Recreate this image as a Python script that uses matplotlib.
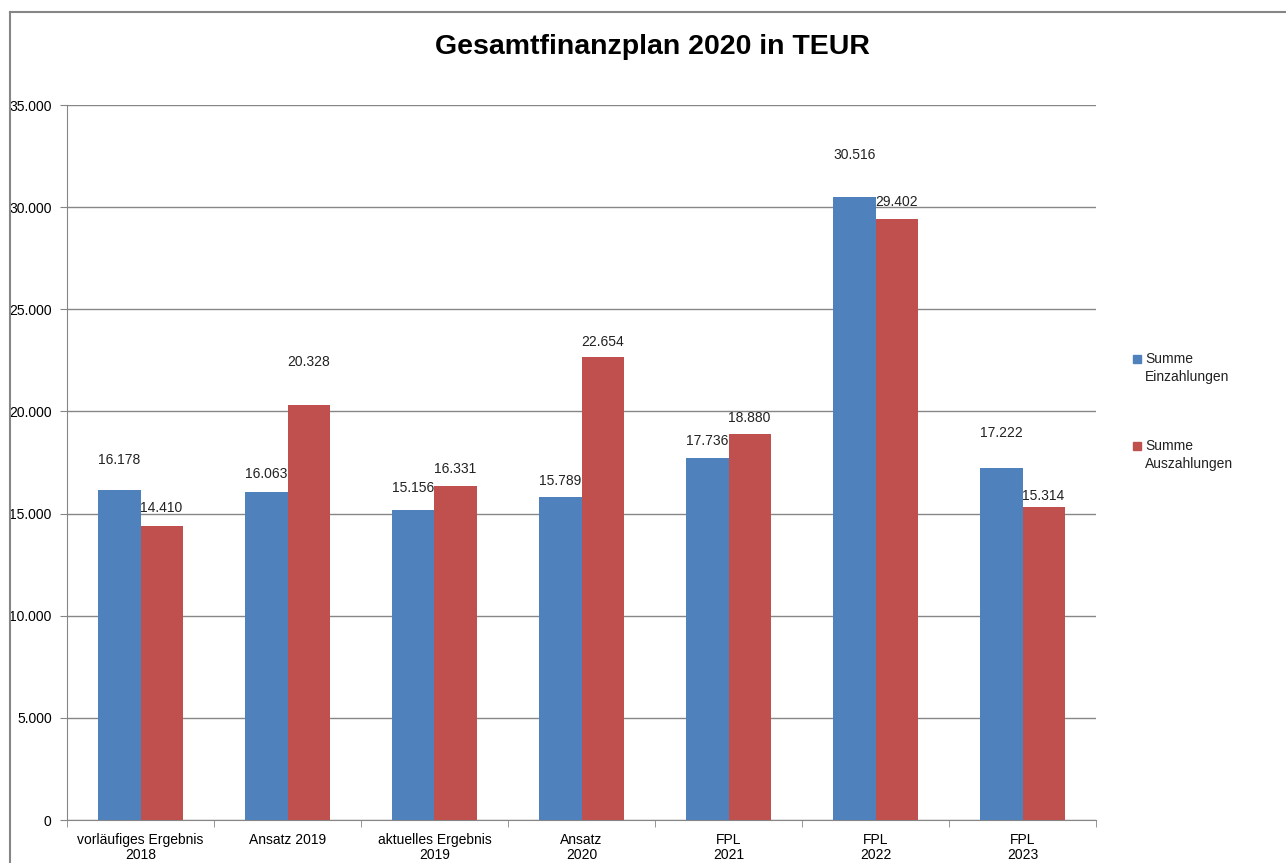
import matplotlib
matplotlib.use("Agg")
import matplotlib.pyplot as plt
from matplotlib.lines import Line2D
from matplotlib.patches import Rectangle
from matplotlib.ticker import FuncFormatter, FixedLocator
import numpy as np

categories = ["vorläufiges Ergebnis\n2018", "Ansatz 2019", "aktuelles Ergebnis\n2019",
              "Ansatz\n2020", "FPL\n2021", "FPL\n2022", "FPL\n2023"]
einzahlungen = [16178, 16063, 15156, 15789, 17736, 30516, 17222]
auszahlungen = [14410, 20328, 16331, 22654, 18880, 29402, 15314]
series_names = ["Summe\nEinzahlungen", "Summe\nAuszahlungen"]

# label offsets above bar tops (pixels), as placed in the original
off_blue = [30, 18, 22, 16, 17, 42, 35]
off_red = [18, 43, 17, 15, 16, 17, 11]

blue = "#4F81BD"
red = "#C0504D"
grid_col = "#868686"

plt.rcParams['font.family'] = ['Liberation Sans', 'DejaVu Sans']

W, H = 1286, 863
fig = plt.figure(figsize=(W / 100, H / 100), dpi=100)
ax = fig.add_axes([67 / W, 1 - 820 / H, (1096 - 67) / W, (820 - 105) / H])

x = np.arange(len(categories))
bw = 0.286
b1 = ax.bar(x - bw / 2, einzahlungen, bw, color=blue, zorder=3)
b2 = ax.bar(x + bw / 2, auszahlungen, bw, color=red, zorder=3)

def fmt(v):
    return f"{v:,.0f}".replace(",", ".")

for bars, vals, offs in [(b1, einzahlungen, off_blue), (b2, auszahlungen, off_red)]:
    for rect, v, o in zip(bars, vals, offs):
        ax.annotate(fmt(v), (rect.get_x() + rect.get_width() / 2, v),
                    xytext=(0, o), textcoords="offset pixels",
                    ha="center", va="center", fontsize=10, color="#222222", zorder=4)

ax.set_xlim(-0.5, len(categories) - 0.5)
ax.set_ylim(0, 35000)
ax.set_yticks(np.arange(0, 35001, 5000))
ax.yaxis.set_major_formatter(FuncFormatter(lambda v, p: fmt(v)))
ax.grid(axis="y", color=grid_col, linewidth=1, zorder=0)

ax.set_xticks(x)
ax.set_xticklabels(categories, fontsize=10, linespacing=1.1)
ax.xaxis.set_minor_locator(FixedLocator(np.arange(-0.5, len(categories), 1)))
ax.tick_params(axis="x", which="major", length=0, pad=9)
ax.tick_params(axis="x", which="minor", length=5, color=grid_col, direction="out")
ax.tick_params(axis="y", length=5, color=grid_col, direction="out", labelsize=10, pad=6)

for s in ["top", "right"]:
    ax.spines[s].set_visible(False)
for s in ["left", "bottom"]:
    ax.spines[s].set_color(grid_col)

fig.text(652 / W, 1 - 47 / H, "Gesamtfinanzplan 2020 in TEUR", ha="center", va="center",
         fontsize=20.5, fontweight="bold")

# legend: square aligned with first line of each two-line entry
for name, col, y0 in zip(series_names, [blue, red], [359, 446]):
    fig.add_artist(Rectangle((1133 / W, 1 - (y0 + 4) / H), 8 / W, 8 / H,
                             transform=fig.transFigure, color=col))
    for k, line in enumerate(name.split("\n")):
        fig.text(1145 / W, 1 - (y0 + 18 * k) / H, line, ha="left", va="center",
                 fontsize=10, color="#222222")

# outer chart border (left and top visible in the original)
fig.add_artist(Line2D([10 / W, 10 / W], [0, 1 - 12 / H], color=grid_col, linewidth=1.5))
fig.add_artist(Line2D([10 / W, 1], [1 - 12 / H, 1 - 12 / H], color=grid_col, linewidth=1.5))

fig.savefig("out.png", dpi=100)
